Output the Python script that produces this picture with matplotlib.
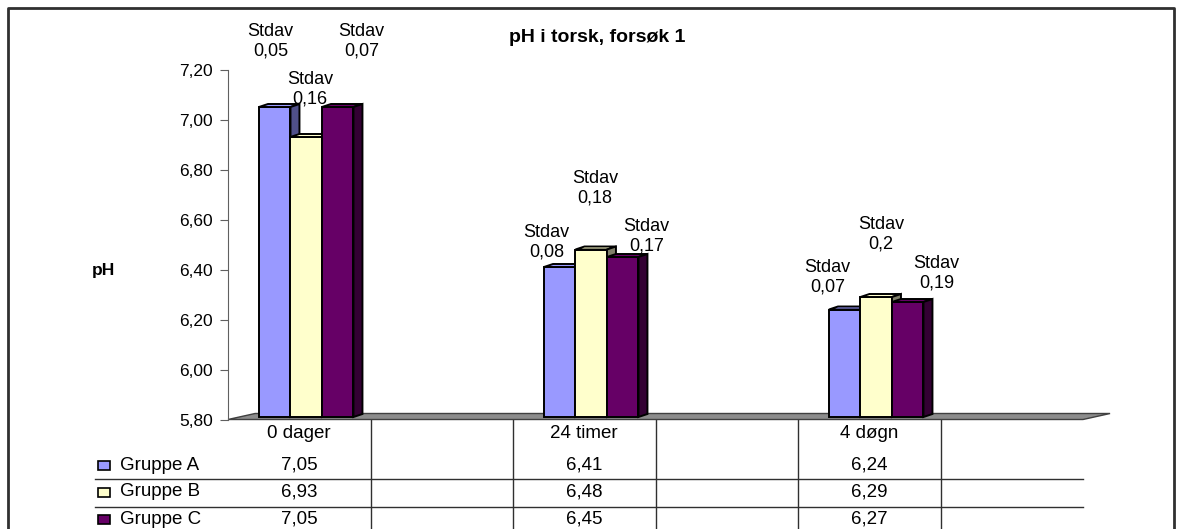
import matplotlib
matplotlib.use('Agg')
import matplotlib.pyplot as plt
from matplotlib.patches import Polygon, Rectangle
from matplotlib.transforms import blended_transform_factory
import numpy as np

plt.rcParams['font.family'] = ['Liberation Sans', 'DejaVu Sans']

# data (Excel chart has blank categories in between)
categories = ['0 dager', '', '24 timer', '', '4 døgn', '']
groups = ['Gruppe A', 'Gruppe B', 'Gruppe C']
ph_a = [7.05, None, 6.41, None, 6.24, None]
ph_b = [6.93, None, 6.48, None, 6.29, None]
ph_c = [7.05, None, 6.45, None, 6.27, None]
stdav_a = [0.05, 0.08, 0.07]
stdav_b = [0.16, 0.18, 0.2]
stdav_c = [0.07, 0.17, 0.19]
yticks = [5.8, 6.0, 6.2, 6.4, 6.6, 6.8, 7.0, 7.2]

# styling
front_cols = ['#9999ff', '#ffffcc', '#660066']
side_cols = ['#50508a', '#80806a', '#330033']
# label offsets in pixels from the bar top (per group, per filled category)
lab_off = [[(-4, 66), (-13, 25), (-17, 32)],
           [(4, 48), (4, 61), (5, 63)],
           [(24, 66), (24, 21), (29, 29)]]

W, H = 1183, 529
fig = plt.figure(figsize=(W / 100, H / 100), dpi=100)

# overlay in pixel coordinates for frame and table
tab = fig.add_axes([0, 0, 1, 1])
tab.set_xlim(0, W)
tab.set_ylim(H, 0)
tab.axis('off')

ax = fig.add_axes([228 / W, 1 - 419.5 / H, 855 / W, 350 / H])
ax.set_facecolor('none')
ax.set_xlim(-0.5, len(categories) - 0.5)
ax.set_ylim(5.8, 7.2)
for s in ['top', 'right', 'bottom']:
    ax.spines[s].set_visible(False)
ax.spines['left'].set_color('#606060')
ax.set_xticks([])
ax.set_yticks(yticks)
ax.set_yticklabels([f"{t:.2f}".replace('.', ',') for t in yticks])
ax.tick_params(axis='y', direction='out', length=6, color='#606060',
               labelsize=12.5, pad=5)

base = 5.81
w = 0.221
shift = 0.049
dx, dy = 0.063, 0.012

# floor
fdx, fdy = 0.19, 0.024
floor = Polygon([(-0.5, 5.8), (5.5, 5.8), (5.5 + fdx, 5.8 + fdy),
                 (-0.5 + fdx, 5.8 + fdy)], closed=True, fc='#8c8c8c',
                ec='#404040', lw=1, clip_on=False, zorder=1)
ax.add_patch(floor)

series = [ph_a, ph_b, ph_c]
stdavs = [stdav_a, stdav_b, stdav_c]
for g, vals in enumerate(series):
    idx = [i for i, v in enumerate(vals) if v is not None]
    xs = np.array(idx) + shift + (g - 1) * w
    tops = np.array([vals[i] for i in idx])
    z = 3 + g
    ax.bar(xs, tops - base, bottom=base, width=w, color=front_cols[g],
           edgecolor='black', linewidth=1.4, zorder=z, clip_on=False)
    for k, (x, t) in enumerate(zip(xs, tops)):
        l, r = x - w / 2, x + w / 2
        ax.add_patch(Polygon([(l, t), (r, t), (r + dx, t + dy), (l + dx, t + dy)],
                             closed=True, fc=front_cols[g], ec='black',
                             lw=1.4, zorder=z, clip_on=False))
        ax.add_patch(Polygon([(r, base), (r + dx, base + dy), (r + dx, t + dy), (r, t)],
                             closed=True, fc=side_cols[g], ec='black',
                             lw=1.4, zorder=z, clip_on=False))
        sd = f"{stdavs[g][k]:g}".replace('.', ',')
        ax.annotate(f"Stdav\n{sd}", (x, t), xytext=lab_off[g][k],
                    textcoords='offset pixels', ha='center', va='center',
                    fontsize=13, linespacing=1.2, annotation_clip=False,
                    zorder=10)

# title and axis label
fig.text(597 / W, 1 - 38 / H, 'pH i torsk, forsøk 1', ha='center',
         va='center', fontsize=14, fontweight='bold')
fig.text(103 / W, 1 - 270 / H, 'pH', ha='center', va='center',
         fontsize=12.5, fontweight='bold')

# data table under the chart
btr = blended_transform_factory(ax.transData, tab.transData)
for i, c in enumerate(categories):
    if c:
        tab.text(i, 433, c, transform=btr, ha='center', va='center', fontsize=13.5)
for i in range(1, len(categories)):
    tab.plot([i - 0.5, i - 0.5], [420, H], transform=btr, color='#303030', lw=1)
row_y = [465, 492, 519]
for g, vals in enumerate(series):
    y = row_y[g]
    tab.add_patch(Rectangle((98, y - 4.5), 12, 9, fc=front_cols[g],
                            ec='black', lw=1.2))
    tab.text(120, y, groups[g], ha='left', va='center', fontsize=13.5)
    for i, v in enumerate(vals):
        if v is not None:
            tab.text(i, y, f"{v:.2f}".replace('.', ','), transform=btr,
                     ha='center', va='center', fontsize=13.5)
for y in [479, 507]:
    tab.plot([95, 1083], [y, y], color='#303030', lw=1)

# chart frame
tab.plot([8, 8, 1174, 1174], [H + 5, 8, 8, H + 5], color='#303030', lw=2,
         clip_on=False)

fig.savefig('out.png', dpi=100)
